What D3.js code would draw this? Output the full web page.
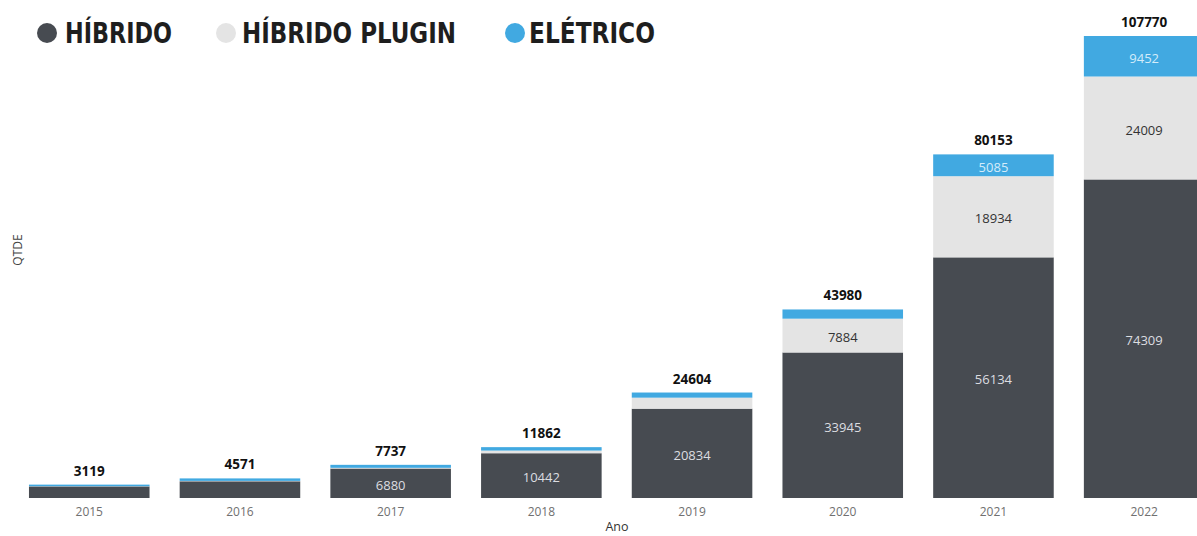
<!DOCTYPE html>
<html>
<head>
<meta charset="utf-8">
<script src="https://cdn.jsdelivr.net/npm/d3@7/dist/d3.min.js"></script>
<style>
  html, body { margin: 0; padding: 0; background: #ffffff; }
  svg { display: block; }
</style>
</head>
<body>
<svg id="chart" width="1197" height="536"></svg>
<script>
// Vehicle registrations per year, stacked by powertrain
const years = ["2015", "2016", "2017", "2018", "2019", "2020", "2021", "2022"];
const hibrido = [2700, 3900, 6880, 10442, 20834, 33945, 56134, 74309];
const hibridoPlugin = [50, 90, 157, 620, 2570, 7884, 18934, 24009];
const eletrico = [369, 581, 700, 800, 1200, 2151, 5085, 9452];
const seriesNames = ["HÍBRIDO", "HÍBRIDO PLUGIN", "ELÉTRICO"];
const seriesKeys = ["hibrido", "plugin", "eletrico"];
const colors = ["#474b51", "#e4e4e4", "#41a9e1"];
const labelColors = ["#dcdde0", "#333333", "#d4ecfa"];

const rows = years.map((y, i) => ({
  year: y,
  hibrido: hibrido[i],
  plugin: hibridoPlugin[i],
  eletrico: eletrico[i]
}));
const totals = rows.map(r => r.hibrido + r.plugin + r.eletrico);

const svg = d3.select("#chart");

const x = d3.scaleBand()
  .domain(years)
  .range([13.9, 13.9 + 150.7 * years.length])
  .paddingInner(0.2)
  .paddingOuter(0.1);

const y = d3.scaleLinear()
  .domain([0, d3.max(totals)])
  .range([498, 36]);

const stack = d3.stack().keys(seriesKeys)(rows);

const font = "'Open Sans', 'Segoe UI', sans-serif";

// stacked segments
const layers = svg.append("g").selectAll("g")
  .data(stack)
  .join("g")
  .attr("fill", (d, i) => colors[i]);

layers.selectAll("rect")
  .data(d => d)
  .join("rect")
  .attr("x", d => x(d.data.year))
  .attr("width", x.bandwidth())
  .attr("y", d => y(d[1]))
  .attr("height", d => y(d[0]) - y(d[1]));

// value labels inside segments tall enough to hold them
stack.forEach((layer, li) => {
  svg.append("g").selectAll("text")
    .data(layer.filter(d => y(d[0]) - y(d[1]) >= 20))
    .join("text")
    .attr("x", d => x(d.data.year) + x.bandwidth() / 2)
    .attr("y", d => (y(d[0]) + y(d[1])) / 2 + 2)
    .attr("dy", "0.35em")
    .attr("text-anchor", "middle")
    .attr("font-family", font)
    .attr("font-size", 13)
    .attr("fill", labelColors[li])
    .text(d => d.data[seriesKeys[li]]);
});

// totals above bars
svg.append("g").selectAll("text")
  .data(rows)
  .join("text")
  .attr("x", d => x(d.year) + x.bandwidth() / 2)
  .attr("y", (d, i) => y(totals[i]) - 9)
  .attr("text-anchor", "middle")
  .attr("font-family", font)
  .attr("font-weight", "bold")
  .attr("font-size", 13.5)
  .attr("fill", "#111111")
  .text((d, i) => totals[i]);

// x axis (labels only)
const xAxis = svg.append("g")
  .attr("transform", "translate(0,498)")
  .call(d3.axisBottom(x).tickSize(0).tickPadding(9));
xAxis.select(".domain").remove();
xAxis.selectAll("text")
  .attr("font-family", font)
  .attr("font-size", 12)
  .attr("fill", "#707070");

// axis titles
svg.append("text")
  .attr("x", 617)
  .attr("y", 531)
  .attr("text-anchor", "middle")
  .attr("font-family", font)
  .attr("font-size", 12.5)
  .attr("fill", "#333333")
  .text("Ano");

svg.append("text")
  .attr("transform", "translate(22,250) rotate(-90)")
  .attr("text-anchor", "middle")
  .attr("font-family", font)
  .attr("font-size", 12)
  .attr("fill", "#444444")
  .text("QTDE");

// legend
const legendItems = [
  { cx: 47, tx: 65, w: 107 },
  { cx: 226, tx: 242, w: 214 },
  { cx: 515, tx: 529, w: 126 }
];
const legend = svg.append("g");
legendItems.forEach((it, i) => {
  legend.append("circle")
    .attr("cx", it.cx)
    .attr("cy", 33)
    .attr("r", 10)
    .attr("fill", colors[i]);
  legend.append("text")
    .attr("x", it.tx)
    .attr("y", 43)
    .attr("font-family", "'Liberation Sans Narrow', 'DejaVu Sans Condensed', 'Roboto', sans-serif")
    .attr("font-weight", "bold")
    .attr("font-size", 28)
    .attr("fill", "#1e1e1e")
    .attr("textLength", it.w)
    .attr("lengthAdjust", "spacingAndGlyphs")
    .text(seriesNames[i]);
});
</script>
</body>
</html>
